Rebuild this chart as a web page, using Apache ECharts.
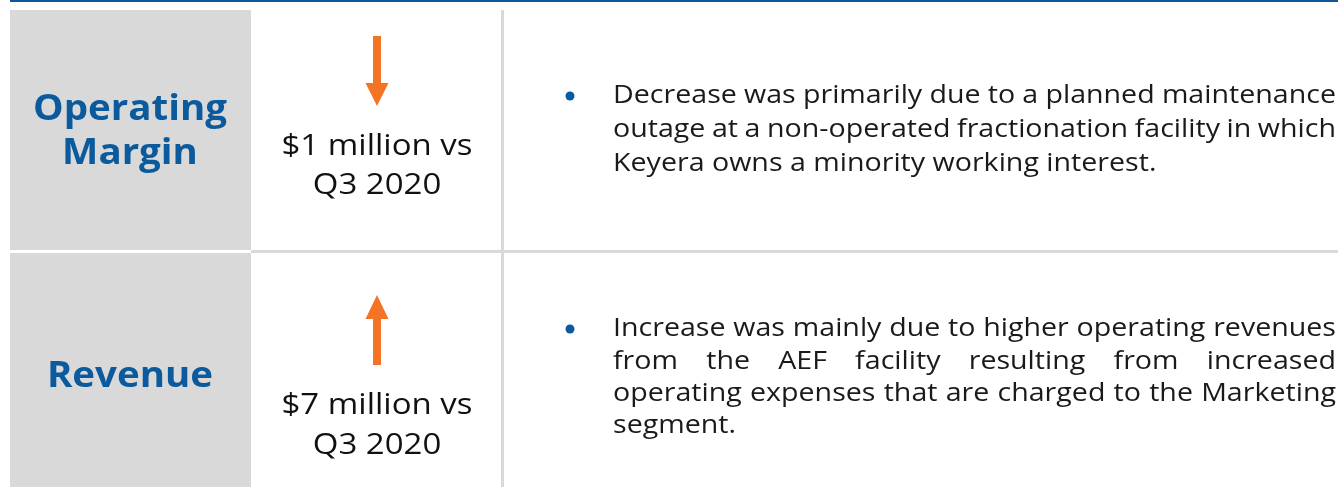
<!DOCTYPE html>
<html>
<head>
<meta charset="utf-8">
<script src="https://cdn.jsdelivr.net/npm/echarts@6/dist/echarts.min.js"></script>
<style>
  html, body { margin: 0; padding: 0; background: #fff; }
  #main { width: 1338px; height: 487px; }
</style>
</head>
<body>
<div id="main"></div>
<script>
// table content
const metrics = [["Operating", "Margin"], ["Revenue"]];
const directions = ["down", "up"];
const changeLines = [["$1 million vs", "Q3 2020"], ["$7 million vs", "Q3 2020"]];
const notes = [
  [
    "Decrease was primarily due to a planned maintenance",
    "outage at a non-operated fractionation facility in which",
    "Keyera owns a minority working interest."
  ],
  [
    "Increase was mainly due to higher operating revenues",
    "from the AEF facility resulting from increased",
    "operating expenses that are charged to the Marketing",
    "segment."
  ]
];

const BLUE = "#0b5a9e";
const ORANGE = "#f47324";
const GRAY = "#d9d9d9";
const FONT = '"Open Sans", "DejaVu Sans", sans-serif';
const STRETCH = 1.1; // original font is wider than Open Sans

const chart = echarts.init(document.getElementById("main"));

// row layout
const rows = [
  { top: 10, bottom: 250, labelY: [110, 154], midY: [146, 185], arrow: [36, 106], noteY: 96, noteStep: 34 },
  { top: 253, bottom: 487, labelY: [377], midY: [405, 445], arrow: [295, 365], noteY: 329, noteStep: 32.3 }
];

const ctx = document.createElement("canvas").getContext("2d");
function measure(t, font) {
  ctx.font = font;
  return ctx.measureText(t).width;
}

function txt(t, x, y, font, fill, align) {
  return {
    type: "text", x: x, y: y, scaleX: STRETCH,
    style: { text: t, x: 0, y: 0, font: font, fill: fill, align: align || "left", verticalAlign: "middle" }
  };
}

const noteFont = "26px " + FONT;
const noteX0 = 613, noteX1 = 1336;

const elements = [];

// top blue rule
elements.push({ type: "rect", shape: { x: 10, y: 0, width: 1328, height: 2 }, style: { fill: "#0f5797" } });
// column divider and row divider
elements.push({ type: "rect", shape: { x: 501, y: 10, width: 3, height: 477 }, style: { fill: GRAY } });
elements.push({ type: "rect", shape: { x: 251, y: 250, width: 1087, height: 3 }, style: { fill: GRAY } });

rows.forEach((r, i) => {
  elements.push({ type: "rect", shape: { x: 10, y: r.top, width: 241, height: r.bottom - r.top }, style: { fill: GRAY } });

  metrics[i].forEach((t, k) => {
    elements.push(txt(t, 130, r.labelY[k], "bold 35px " + FONT, BLUE, "center"));
  });

  changeLines[i].forEach((t, k) => {
    elements.push(txt(t, 377, r.midY[k], "30px " + FONT, "#111", "center"));
  });

  // arrow
  const cx = 377, a0 = r.arrow[0], a1 = r.arrow[1];
  const pts = directions[i] === "down"
    ? [[cx - 4, a0], [cx + 4, a0], [cx + 4, a1 - 23], [cx + 11.5, a1 - 23], [cx, a1], [cx - 11.5, a1 - 23], [cx - 4, a1 - 23]]
    : [[cx, a0], [cx + 11.5, a0 + 24], [cx + 4, a0 + 24], [cx + 4, a1], [cx - 4, a1], [cx - 4, a0 + 24], [cx - 11.5, a0 + 24]];
  elements.push({ type: "polygon", shape: { points: pts }, style: { fill: ORANGE } });

  // bullet
  elements.push({ type: "circle", shape: { cx: 570, cy: r.noteY, r: 4.5 }, style: { fill: BLUE } });

  // justified note lines
  const lines = notes[i];
  lines.forEach((line, k) => {
    const y = r.noteY + k * r.noteStep;
    const words = line.split(" ");
    if (k === lines.length - 1 || words.length < 2) {
      elements.push(txt(line, noteX0, y, noteFont, "#1a1a1a"));
      return;
    }
    const widths = words.map(w => measure(w, noteFont) * STRETCH);
    const total = widths.reduce((a, b) => a + b, 0);
    const gap = (noteX1 - noteX0 - total) / (words.length - 1);
    let x = noteX0;
    words.forEach((w, j) => {
      elements.push(txt(w, x, y, noteFont, "#1a1a1a"));
      x += widths[j] + gap;
    });
  });
});

chart.setOption({
  animation: false,
  graphic: { elements: elements }
});
</script>
</body>
</html>
